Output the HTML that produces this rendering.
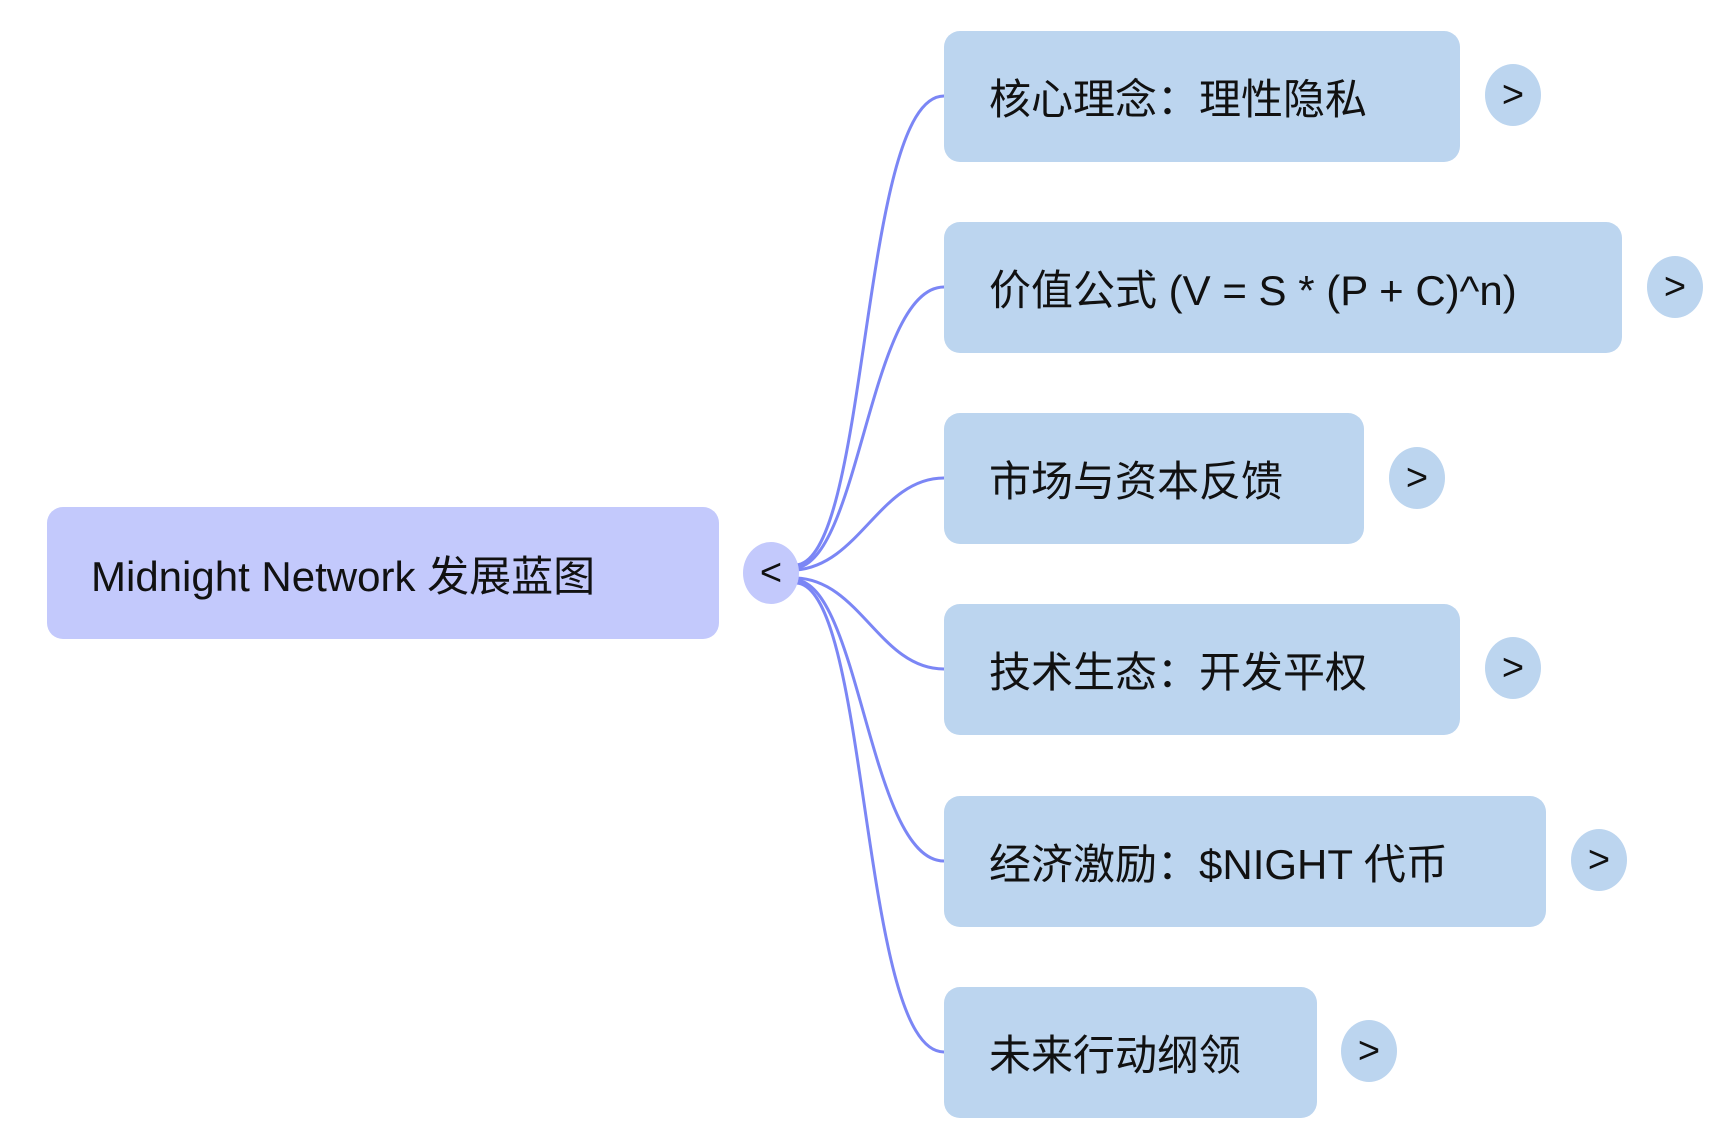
<!DOCTYPE html>
<html><head><meta charset="utf-8"><style>
html,body{margin:0;padding:0;background:#fff;}
body{width:1732px;height:1137px;position:relative;overflow:hidden;font-family:"Liberation Sans","Noto Sans CJK SC",sans-serif;}
.b{position:absolute;border-radius:16px;box-sizing:border-box;font-size:42px;color:#111;display:flex;align-items:center;}
.c{position:absolute;border-radius:50%;font-size:38px;color:#111;display:flex;align-items:center;justify-content:center;background:#bcd5ef;width:56px;height:62px;}
</style></head><body>
<svg width="1732" height="1137" style="position:absolute;left:0;top:0" fill="none" stroke="#7b86f5" stroke-width="3">
<path d="M796 565 C870 560,860 96,944 96"/>
<path d="M796 568 C860 560,870 287,944 287"/>
<path d="M796 570 C860 565,880 478,944 478"/>
<path d="M796 578 C860 580,880 669,944 669"/>
<path d="M796 580 C860 585,870 861,944 861"/>
<path d="M796 583 C870 585,860 1052,944 1052"/>
</svg>
<div class="b" style="left:47px;top:507px;width:672px;height:132px;background:#c3c9fc;padding-left:44px;">Midnight Network 发展蓝图</div>
<div class="c" style="left:743px;top:542px;background:#c3c9fc;">&lt;</div>
<div class="b" style="left:944px;top:31px;width:516px;height:131px;background:#bcd5ef;padding-left:45px;">核心理念：理性隐私</div>
<div class="c" style="left:1485px;top:64px;">&gt;</div>
<div class="b" style="left:944px;top:222px;width:678px;height:131px;background:#bcd5ef;padding-left:45px;">价值公式 (V = S * (P + C)^n)</div>
<div class="c" style="left:1647px;top:256px;">&gt;</div>
<div class="b" style="left:944px;top:413px;width:420px;height:131px;background:#bcd5ef;padding-left:45px;">市场与资本反馈</div>
<div class="c" style="left:1389px;top:447px;">&gt;</div>
<div class="b" style="left:944px;top:604px;width:516px;height:131px;background:#bcd5ef;padding-left:45px;">技术生态：开发平权</div>
<div class="c" style="left:1485px;top:637px;">&gt;</div>
<div class="b" style="left:944px;top:796px;width:602px;height:131px;background:#bcd5ef;padding-left:45px;">经济激励：$NIGHT 代币</div>
<div class="c" style="left:1571px;top:829px;">&gt;</div>
<div class="b" style="left:944px;top:987px;width:373px;height:131px;background:#bcd5ef;padding-left:45px;">未来行动纲领</div>
<div class="c" style="left:1341px;top:1020px;">&gt;</div>
</body></html>
